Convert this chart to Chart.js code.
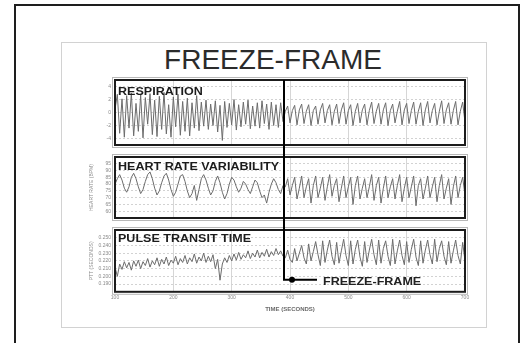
<!DOCTYPE html>
<html>
<head>
<meta charset="utf-8">
<script src="https://cdn.jsdelivr.net/npm/chart.js@4.4.1/dist/chart.umd.min.js"></script>
<style>
  body { margin: 0; background: #fff; width: 528px; height: 343px; overflow: hidden; position: relative; font-family: "Liberation Sans", Arial, sans-serif; }
  #frame { position: absolute; left: 14px; top: 4px; width: 502px; height: 400px; border: 2px solid #1e1e1e; }
  #slide { position: absolute; left: 61px; top: 42px; width: 424px; height: 284px; border: 1px solid #d2d2d2; }
  #title { position: absolute; left: 0; width: 546px; top: 46px; text-align: center; font-size: 28px; line-height: 28px; color: #2b2b2b; }
  canvas { position: absolute; left: 85px; }
  #c1 { top: 72px; }
  #c2 { top: 150px; }
  #c3 { top: 223px; }
</style>
</head>
<body>
<div id="frame"></div>
<div id="slide"></div>
<div id="title">FREEZE-FRAME</div>
<canvas id="c1" width="405" height="80"></canvas>
<canvas id="c2" width="405" height="75"></canvas>
<canvas id="c3" width="405" height="90"></canvas>
<script>
// ==============================
// Data (time in seconds, one sample every 4 s)
// ==============================
const tStart = 100;
const tStep = 4;
const freezeT = 390;
const xTicks = [100, 200, 300, 400, 500, 600, 700];
const panelTitles = ["RESPIRATION", "HEART RATE VARIABILITY", "PULSE TRANSIT TIME"];
const axisTitles = ["", "HEART RATE (BPM)", "PTT (SECONDS)"];

const respTicks = [-4, -2, 0, 2, 4];
const hrvTicks = [60, 65, 70, 75, 80, 85, 90, 95];
const pttTicks = [0.19, 0.2, 0.21, 0.22, 0.23, 0.24, 0.25];

// respiration, before / after freeze-frame
const respPre = [0.5, 2.8, -3.2, 2.1, -3.8, 2.6, -2.4, 3.0, -3.6, 1.4, -2.9, 2.7, -3.9, 2.3, -1.8, 2.9, -3.4, 1.9, -3.7, 2.5,
  -2.6, 3.1, -3.3, 1.2, -3.8, 2.4, -2.2, 2.8, -3.5, 1.7, -2.9, 2.2, -3.6, 1.5, -2.4, 2.6,
  -2.8, 1.6, -2.1, 1.9, -2.6, 1.3, -2.0, 1.8, -3.0, 1.1, -4.3, 1.7, -2.3, 1.4, -1.9, 2.0, -2.7, 1.2, -2.2, 1.6,
  -1.8, 1.9, -2.5, 1.0, -2.1, 1.5, -2.4, 1.8, -1.7, 1.3, -2.6, 1.6, -2.0, 1.2, -2.3, 1.5, -1.4];
const respPost = [0.2, 1.0, -1.6, 0.3, 1.1, -1.9, 0.4, 1.3, -1.7, 0.2, 1.2, -2.0, 0.3, 1.0, -1.8, 0.4, 1.4, -1.6,
  0.3, 1.2, -1.9, 0.2, 1.3, -1.7, 0.4, 1.5, -1.8, 0.3, 1.2, -2.0, 0.2, 1.4, -1.6, 0.4, 1.3, -1.9,
  0.3, 1.6, -1.7, 0.2, 1.4, -1.8, 0.4, 1.5, -2.0, 0.3, 1.3, -1.6, 0.2, 1.7, -1.9, 0.4, 1.4, -1.7,
  0.3, 1.6, -1.8, 0.2, 1.5, -2.0, 0.4, 1.7, -1.6, 0.3, 1.4, -1.9, 0.2, 1.8, -1.7, 0.4, 1.5, -1.8,
  0.3, 1.7, -1.9, 0.2, 1.6, -1.5];

// heart rate (bpm)
const hrvPre = [80, 84, 87, 83, 77, 74, 78, 85, 88, 84, 78, 73, 76, 82, 87, 89, 84, 77, 72, 75,
  81, 86, 88, 83, 76, 71, 74, 80, 86, 87, 82, 75, 70, 73, 79, 68, 76, 84, 87, 83,
  77, 72, 75, 82, 86, 81, 74, 69, 73, 80, 85, 83, 78, 74, 77, 82, 80, 76, 73, 78,
  83, 81, 75, 70, 72, 66, 74, 80, 84, 81, 76, 73, 79];
const hrvPost = [78, 84, 72, 79, 85, 69, 77, 86, 70, 78, 84, 66, 79, 86, 70, 77, 85, 68, 78, 87,
  71, 79, 84, 67, 77, 86, 70, 78, 85, 65, 79, 86, 69, 77, 84, 70, 78, 87, 68, 79,
  85, 66, 77, 86, 70, 78, 84, 69, 79, 87, 67, 77, 85, 70, 78, 86, 64, 79, 84, 69,
  77, 86, 70, 78, 85, 67, 79, 87, 69, 77, 84, 65, 78, 86, 70, 79, 85, 72];

// pulse transit time (s)
const pttPre = [0.212, 0.200, 0.216, 0.209, 0.219, 0.211, 0.218, 0.208, 0.220, 0.213,
  0.221, 0.210, 0.219, 0.214, 0.223, 0.212, 0.220, 0.215, 0.224, 0.213,
  0.222, 0.216, 0.225, 0.214, 0.221, 0.217, 0.226, 0.215, 0.223, 0.218,
  0.227, 0.216, 0.224, 0.219, 0.229, 0.217, 0.225, 0.220, 0.230, 0.218,
  0.226, 0.219, 0.228, 0.210, 0.222, 0.195, 0.216, 0.224, 0.218, 0.227,
  0.220, 0.229, 0.221, 0.231, 0.222, 0.228, 0.224, 0.233, 0.223, 0.230,
  0.225, 0.234, 0.224, 0.231, 0.226, 0.235, 0.225, 0.232, 0.227, 0.236,
  0.228, 0.233, 0.226];
const pttPost = [0.224, 0.234, 0.222, 0.218, 0.236, 0.220, 0.230, 0.240, 0.224, 0.216,
  0.242, 0.220, 0.232, 0.245, 0.228, 0.214, 0.246, 0.218, 0.234, 0.247,
  0.226, 0.215, 0.244, 0.217, 0.233, 0.248, 0.227, 0.214, 0.246, 0.216,
  0.235, 0.247, 0.225, 0.213, 0.245, 0.218, 0.234, 0.248, 0.228, 0.215,
  0.247, 0.217, 0.236, 0.246, 0.226, 0.214, 0.248, 0.216, 0.233, 0.247,
  0.227, 0.215, 0.245, 0.218, 0.235, 0.248, 0.225, 0.214, 0.246, 0.217,
  0.234, 0.247, 0.228, 0.216, 0.248, 0.219, 0.236, 0.246, 0.226, 0.215,
  0.245, 0.217, 0.233, 0.247, 0.227, 0.216, 0.244, 0.220];

const FONT = '"Liberation Sans", Arial, sans-serif';

function series(pre, post) {
  return pre.concat(post).map((v, i) => ({ x: tStart + i * tStep, y: v }));
}

// ==============================
// Panel frame, title and freeze-frame marker
// ==============================
const panelDeco = {
  id: "panelDeco",
  afterDatasetsDraw(chart, args, o) {
    const { ctx, chartArea: a, scales: { x } } = chart;
    ctx.save();
    ctx.strokeStyle = "#b8b8b8";
    ctx.lineWidth = 1;
    ctx.strokeRect(a.left - 2.5, a.top - 2.5, a.width + 5, a.height + 5);
    ctx.strokeStyle = "#1c1c1c";
    ctx.lineWidth = 2;
    ctx.strokeRect(a.left, a.top, a.width, a.height);

    ctx.fillStyle = "#1c1c1c";
    ctx.font = "bold 11px " + FONT;
    ctx.textBaseline = "top";
    ctx.save();
    ctx.translate(a.left + 3, a.top + o.titleY);
    ctx.scale(1.14, 1);
    ctx.fillText(o.title, 0, 0);
    ctx.restore();

    const fx = Math.round(x.getPixelForValue(freezeT));
    const y0 = o.fromArea ? a.top : 0;
    const y1 = o.arrow ? a.bottom - 12 : chart.height;
    ctx.strokeStyle = "#000";
    ctx.lineWidth = 2;
    ctx.beginPath();
    ctx.moveTo(fx, y0);
    ctx.lineTo(fx, y1);
    if (o.arrow) {
      ctx.lineTo(fx + 33, y1);
    }
    ctx.stroke();
    if (o.arrow) {
      ctx.fillStyle = "#000";
      ctx.beginPath();
      ctx.arc(fx + 8, y1, 3, 0, Math.PI * 2);
      ctx.fill();
      ctx.font = "bold 11px " + FONT;
      ctx.textBaseline = "middle";
      ctx.save();
      ctx.translate(fx + 39, y1 + 2);
      ctx.scale(1.14, 1);
      ctx.fillStyle = "#222";
      ctx.fillText("FREEZE-FRAME", 0, 0);
      ctx.restore();
    }
    ctx.restore();
  }
};

function makePanel(id, data, ticks, cfg) {
  new Chart(document.getElementById(id), {
    type: "line",
    data: {
      datasets: [{
        data: data,
        borderColor: "#6c6c6c",
        borderWidth: 1,
        pointRadius: 0,
        tension: 0
      }]
    },
    options: {
      responsive: false,
      animation: false,
      layout: { padding: { top: cfg.padTop, bottom: cfg.padBottom, left: 0, right: 25 } },
      plugins: {
        legend: { display: false },
        tooltip: { enabled: false },
        panelDeco: cfg.deco
      },
      scales: {
        x: {
          type: "linear",
          min: 100,
          max: 700,
          afterBuildTicks: s => { s.ticks = xTicks.map(v => ({ value: v })); },
          grid: { color: "#d6d6d6", drawTicks: false },
          border: { display: false },
          ticks: {
            display: cfg.showX,
            padding: 3,
            color: "#8a8a8a",
            font: { family: FONT, size: 5 }
          },
          title: {
            display: cfg.showX,
            text: "TIME (SECONDS)",
            color: "#6a6a6a",
            font: { family: FONT, size: 6, weight: "bold" },
            padding: { top: 2, bottom: 0 }
          },
          afterFit: s => { if (!cfg.showX) s.height = 0; }
        },
        y: {
          min: cfg.min,
          max: cfg.max,
          afterBuildTicks: s => { s.ticks = ticks.map(v => ({ value: v })); },
          afterFit: s => { s.width = 30; },
          grid: { color: "#d2d2d2", drawTicks: false },
          border: { display: false, dash: [2, 2] },
          ticks: {
            padding: 4,
            color: "#8a8a8a",
            font: { family: FONT, size: 5 },
            callback: cfg.fmt
          },
          title: {
            display: cfg.yTitle !== "",
            text: cfg.yTitle,
            color: "#8a8a8a",
            font: { family: FONT, size: 5 },
            padding: { top: 4, bottom: 0 }
          }
        }
      }
    },
    plugins: [panelDeco]
  });
}

makePanel("c1", series(respPre, respPost), respTicks, {
  min: -5, max: 5, padTop: 8, padBottom: 4, showX: false, yTitle: axisTitles[0],
  fmt: v => String(v),
  deco: { title: panelTitles[0], titleY: 6, fromArea: true, arrow: false }
});
makePanel("c2", series(hrvPre, hrvPost), hrvTicks, {
  min: 55, max: 100, padTop: 3, padBottom: 4, showX: false, yTitle: axisTitles[1],
  fmt: v => String(v),
  deco: { title: panelTitles[1], titleY: 4, fromArea: false, arrow: false }
});
makePanel("c3", series(pttPre, pttPost), pttTicks, {
  min: 0.18, max: 0.26, padTop: 3, padBottom: 0, showX: true, yTitle: axisTitles[2],
  fmt: v => v.toFixed(3),
  deco: { title: panelTitles[2], titleY: 3, fromArea: false, arrow: true }
});
</script>
</body>
</html>
